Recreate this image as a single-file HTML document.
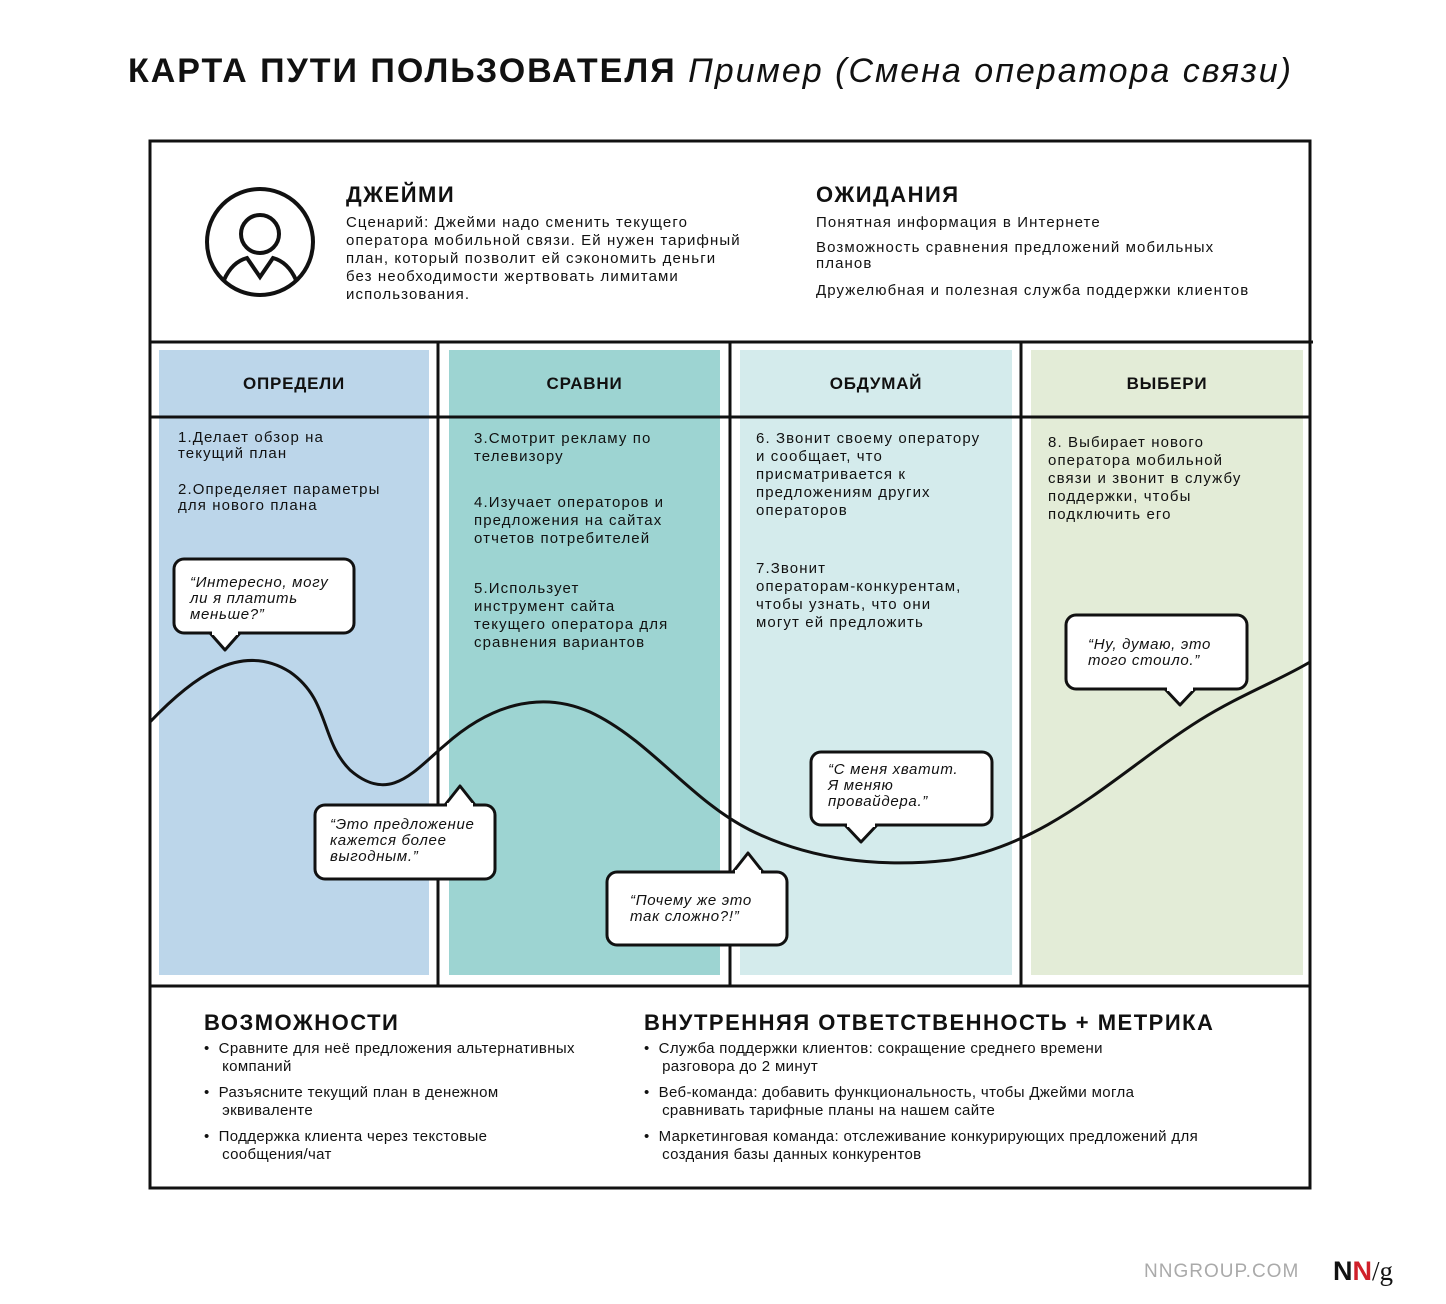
<!DOCTYPE html>
<html><head><meta charset="utf-8"><style>
body{margin:0;width:1446px;height:1304px;background:#fff;position:relative;overflow:hidden;font-family:"Liberation Sans","DejaVu Sans",sans-serif;color:#111}
.a{position:absolute;white-space:nowrap}
.t{font-size:15px;line-height:18px;letter-spacing:1.1px}
.t p{margin:0}
.h{font-weight:bold;font-size:22px;letter-spacing:1.5px}
.c{font-weight:bold;font-size:17px;letter-spacing:0.8px;text-align:center}
.q{font-style:italic;font-size:15px;line-height:16px;letter-spacing:0.7px}
.b{font-size:15px;line-height:18px;letter-spacing:0.35px}
</style></head><body>
<div class="a" style="left:128px;top:52px;font-size:34px;font-weight:bold;letter-spacing:2px">КАРТА ПУТИ ПОЛЬЗОВАТЕЛЯ <span style="font-weight:normal;font-style:italic;letter-spacing:2px">Пример (Смена оператора связи)</span></div>
<svg width="1446" height="1304" style="position:absolute;left:0;top:0">
<rect x="159" y="350" width="270" height="625" fill="#bcd6ea"/>
<rect x="449" y="350" width="271" height="625" fill="#9dd4d2"/>
<rect x="740" y="350" width="272" height="625" fill="#d4ebec"/>
<rect x="1031" y="350" width="272" height="625" fill="#e3ecd7"/>
<rect x="150" y="141" width="1160" height="1047" fill="none" stroke="#111" stroke-width="3"/>
<g stroke="#111" stroke-width="3">
<line x1="150" y1="342" x2="1313" y2="342"/><line x1="150" y1="417" x2="1310" y2="417"/><line x1="150" y1="986" x2="1310" y2="986"/>
<line x1="438" y1="342" x2="438" y2="986"/><line x1="730" y1="342" x2="730" y2="986"/><line x1="1021" y1="342" x2="1021" y2="986"/>
</g>
<circle cx="260" cy="242" r="53" fill="none" stroke="#111" stroke-width="4"/>
<circle cx="260" cy="234" r="19" fill="none" stroke="#111" stroke-width="4"/>
<path d="M224,280 Q232,262 247,258 L260,277 L273,258 Q288,262 296,280" fill="none" stroke="#111" stroke-width="4"/>
<path d="M150,722 C190,680 240,640 290,672 C330,700 320,740 350,770 C390,805 415,770 445,745 C490,705 540,690 590,712 C650,740 690,800 750,830 C810,860 880,868 950,860 C1050,845 1120,770 1200,720 C1240,695 1280,680 1310,662" fill="none" stroke="#111" stroke-width="3"/>
<g fill="#fff" stroke="#111" stroke-width="3" stroke-linejoin="round">
<rect x="174" y="559" width="180" height="74" rx="10"/><polygon points="210,633 225,650 240,633"/>
<rect x="315" y="805" width="180" height="74" rx="10"/><polygon points="445,805 460,786 475,805"/>
<rect x="607" y="872" width="180" height="73" rx="10"/><polygon points="733,872 748,853 763,872"/>
<rect x="811" y="752" width="181" height="73" rx="10"/><polygon points="845,825 861,842 877,825"/>
<rect x="1066" y="615" width="181" height="74" rx="10"/><polygon points="1165,689 1180,705 1195,689"/>
</g>
<g fill="#fff">
<rect x="212" y="630" width="26" height="5"/><rect x="447" y="803" width="26" height="5"/><rect x="735" y="870" width="26" height="5"/><rect x="847" y="822" width="28" height="5"/><rect x="1167" y="686" width="26" height="5"/>
</g>
</svg>
<div class="a h" style="left:346px;top:182px">ДЖЕЙМИ</div>
<div class="a t" style="left:346px;top:214px">Сценарий: Джейми надо сменить текущего<br>оператора мобильной связи. Ей нужен тарифный<br>план, который позволит ей сэкономить деньги<br>без необходимости жертвовать лимитами<br>использования.</div>
<div class="a h" style="left:816px;top:182px">ОЖИДАНИЯ</div>
<div class="a t" style="left:816px;top:214px">Понятная информация в Интернете</div>
<div class="a t" style="left:816px;top:240px;line-height:16px">Возможность сравнения предложений мобильных<br>планов</div>
<div class="a t" style="left:816px;top:282px">Дружелюбная и полезная служба поддержки клиентов</div>
<div class="a c" style="left:159px;width:270px;top:374px">ОПРЕДЕЛИ</div>
<div class="a c" style="left:449px;width:271px;top:374px">СРАВНИ</div>
<div class="a c" style="left:740px;width:272px;top:374px">ОБДУМАЙ</div>
<div class="a c" style="left:1031px;width:272px;top:374px">ВЫБЕРИ</div>
<div class="a t" style="left:178px;top:430px;line-height:16px"><p>1.Делает обзор на<br>текущий план</p><p style="margin-top:20px">2.Определяет параметры<br>для нового плана</p></div>
<div class="a t" style="left:474px;top:430px"><p>3.Смотрит рекламу по<br>телевизору</p><p style="margin-top:28px">4.Изучает операторов и<br>предложения на сайтах<br>отчетов потребителей</p><p style="margin-top:32px">5.Использует<br>инструмент сайта<br>текущего оператора для<br>сравнения вариантов</p></div>
<div class="a t" style="left:756px;top:430px"><p>6. Звонит своему оператору<br>и сообщает, что<br>присматривается к<br>предложениям других<br>операторов</p><p style="margin-top:40px">7.Звонит<br>операторам-конкурентам,<br>чтобы узнать, что они<br>могут ей предложить</p></div>
<div class="a t" style="left:1048px;top:434px">8. Выбирает нового<br>оператора мобильной<br>связи и звонит в службу<br>поддержки, чтобы<br>подключить его</div>
<div class="a q" style="left:190px;top:575px">“Интересно, могу<br>ли я платить<br>меньше?”</div>
<div class="a q" style="left:330px;top:817px">“Это предложение<br>кажется более<br>выгодным.”</div>
<div class="a q" style="left:630px;top:893px">“Почему же это<br>так сложно?!”</div>
<div class="a q" style="left:828px;top:762px">“С меня хватит.<br>Я меняю<br>провайдера.”</div>
<div class="a q" style="left:1088px;top:637px">“Ну, думаю, это<br>того стоило.”</div>
<div class="a h" style="left:204px;top:1010px">ВОЗМОЖНОСТИ</div>
<div class="a b" style="left:204px;top:1040px">•&nbsp;&nbsp;Сравните для неё предложения альтернативных<br>&nbsp;&nbsp;&nbsp;&nbsp;компаний</div>
<div class="a b" style="left:204px;top:1084px">•&nbsp;&nbsp;Разъясните текущий план в денежном<br>&nbsp;&nbsp;&nbsp;&nbsp;эквиваленте</div>
<div class="a b" style="left:204px;top:1128px">•&nbsp;&nbsp;Поддержка клиента через текстовые<br>&nbsp;&nbsp;&nbsp;&nbsp;сообщения/чат</div>
<div class="a h" style="left:644px;top:1010px">ВНУТРЕННЯЯ ОТВЕТСТВЕННОСТЬ + МЕТРИКА</div>
<div class="a b" style="left:644px;top:1040px">•&nbsp;&nbsp;Служба поддержки клиентов: сокращение среднего времени<br>&nbsp;&nbsp;&nbsp;&nbsp;разговора до 2 минут</div>
<div class="a b" style="left:644px;top:1084px">•&nbsp;&nbsp;Веб-команда: добавить функциональность, чтобы Джейми могла<br>&nbsp;&nbsp;&nbsp;&nbsp;сравнивать тарифные планы на нашем сайте</div>
<div class="a b" style="left:644px;top:1128px">•&nbsp;&nbsp;Маркетинговая команда: отслеживание конкурирующих предложений для<br>&nbsp;&nbsp;&nbsp;&nbsp;создания базы данных конкурентов</div>
<div class="a" style="left:1144px;top:1261px;font-size:19px;color:#aaa;letter-spacing:1px">NNGROUP.COM</div>
<div class="a" style="left:1333px;top:1256px;font-size:27px;font-weight:bold">N<span style="color:#d0202a">N</span><span style="font-weight:normal;font-family:'Liberation Serif',serif">/g</span></div>
</body></html>
